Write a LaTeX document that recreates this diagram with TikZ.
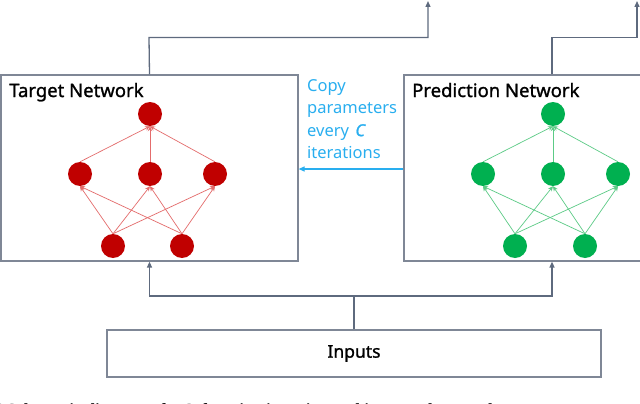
\documentclass[tikz,border=0pt]{standalone}
\usepackage{fontspec}
\setmainfont{Noto Sans}
\newfontfamily\titlefont[FakeBold=1.2]{Noto Sans}
\newfontfamily\capfont{Liberation Serif}
\usetikzlibrary{arrows.meta,calc}
\definecolor{linegray}{HTML}{5E6A7E}
\definecolor{boxgray}{HTML}{7F8796}
\definecolor{tred}{HTML}{C00000}
\definecolor{tredl}{HTML}{E46C6C}
\definecolor{pgreen}{HTML}{00B050}
\definecolor{pgreenl}{HTML}{5CCB86}
\definecolor{cyanc}{HTML}{29AEEF}
\tikzset{
  netbox/.style={draw=boxgray,line width=1.2pt,fill=white},
  conn/.style={draw=linegray,line width=1.3pt},
  connarr/.style={conn,-{Triangle[length=6pt,width=5pt]}},
  copyarr/.style={draw=cyanc,line width=1.1pt,-{Triangle[length=6pt,width=5pt]}},
  rnode/.style={circle,fill=tred,inner sep=0pt,minimum width=23pt,minimum height=24pt},
  gnode/.style={circle,fill=pgreen,inner sep=0pt,minimum width=23pt,minimum height=24pt},
  redge/.style={draw=tredl,line width=0.7pt,-{Stealth[length=5pt,width=4.5pt]}},
  gedge/.style={draw=pgreenl,line width=0.7pt,-{Stealth[length=5pt,width=4.5pt]}},
  titletext/.style={anchor=base west,font=\titlefont\fontsize{18.5}{20}\selectfont,text=black,inner sep=0pt},
  copytext/.style={anchor=north west,align=left,font=\fontsize{16.5}{22.5}\selectfont,text=cyanc,inner sep=0pt},
}
\begin{document}
\begin{tikzpicture}[x=1pt,y=-1pt]
\useasboundingbox (0,0) rectangle (640,404);
\clip (0,0) rectangle (640,404);
% boxes
\node[netbox,minimum width=297pt,minimum height=186pt,inner sep=0pt] (tbox) at (149.5,168) {};
\node[netbox,minimum width=296pt,minimum height=186pt,inner sep=0pt] (pbox) at (552,168) {};
\node[draw=boxgray,line width=1.2pt,minimum width=494pt,minimum height=47pt,inner sep=0pt,font=\titlefont\fontsize{17.5}{20}\selectfont] (inputs) at (354,353.5) {Inputs};
% titles
\node[titletext] (ttitle) at (9,97) {Target Network};
\node[titletext] (ptitle) at (412,97) {Prediction Network};
% target network nodes
\node[rnode] (t0) at (150,114) {};
\node[rnode] (t1) at (80,174) {};
\node[rnode] (t2) at (150,174) {};
\node[rnode] (t3) at (215,174) {};
\node[rnode] (t4) at (113,246) {};
\node[rnode] (t5) at (182,246) {};
% prediction network nodes
\node[gnode] (p0) at (553,114) {};
\node[gnode] (p1) at (483,174) {};
\node[gnode] (p2) at (553,174) {};
\node[gnode] (p3) at (618,174) {};
\node[gnode] (p4) at (515,246) {};
\node[gnode] (p5) at (585,246) {};
% edges
\foreach \a in {t4,t5}{\foreach \b in {t1,t2,t3}{\draw[redge] (\a.north) -- (\b.south);}}
\foreach \a in {t1,t2,t3}{\draw[redge] (\a.north) -- (t0.south);}
\foreach \a in {p4,p5}{\foreach \b in {p1,p2,p3}{\draw[gedge] (\a.north) -- (\b.south);}}
\foreach \a in {p1,p2,p3}{\draw[gedge] (\a.north) -- (p0.south);}
% copy arrow and label
\coordinate (cs) at (pbox.west |- 0,169);
\coordinate (ce) at (tbox.east |- 0,169);
\draw[copyarr] (cs) -- (ce);
\node[copytext] (copy) at (307,79) {Copy\\parameters\\every \hspace{2pt}{\titlefont\bfseries\itshape C}\\iterations};
% outputs
\coordinate (tout) at (428,1);
\coordinate (pout) at (637,1);
\draw[connarr] (tbox.north) -- (149,37.5) -| (tout);
\draw[connarr] (pbox.north) -- (552,37.5) -| (pout);
% inputs
\coordinate (junc) at (354,296);
\draw[conn] (inputs.north) -- (junc);
\draw[connarr] (junc) -| (tbox.south);
\draw[connarr] (junc) -| (pbox.south);
% clipped caption (cut off by the picture's lower edge, as in the reference)
\node[anchor=base west,inner sep=0pt,font=\capfont\bfseries\fontsize{17}{20}\selectfont] (caption) at (-6,415) {4 Schematic diagram of a Q-function iteration and its neural network};
\end{tikzpicture}
\end{document}
